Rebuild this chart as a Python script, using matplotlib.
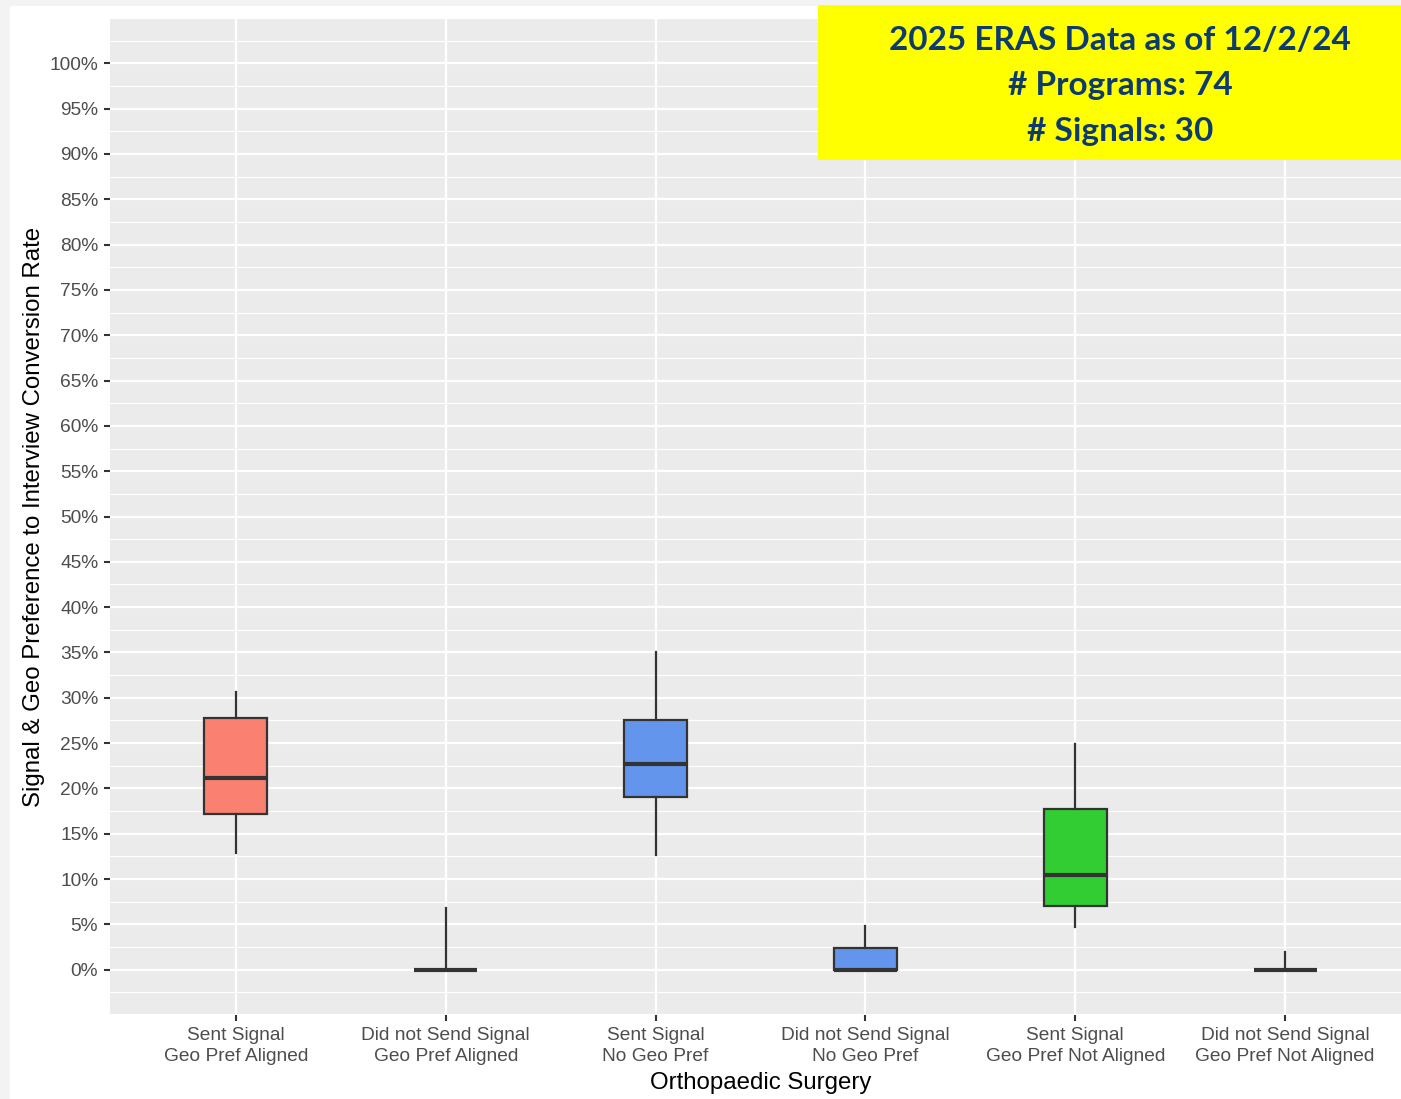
import matplotlib
matplotlib.use("Agg")
import matplotlib.pyplot as plt
from matplotlib.patches import Rectangle
from matplotlib.ticker import MultipleLocator, FuncFormatter

plt.rcParams['font.family'] = ['Liberation Sans', 'DejaVu Sans']

categories = ["Sent Signal\nGeo Pref Aligned", "Did not Send Signal\nGeo Pref Aligned",
              "Sent Signal\nNo Geo Pref", "Did not Send Signal\nNo Geo Pref",
              "Sent Signal\nGeo Pref Not Aligned", "Did not Send Signal\nGeo Pref Not Aligned"]
whisker_low = [12.9, 0.0, 12.6, 0.0, 4.7, 0.0]
q1 = [17.2, 0.0, 19.0, 0.0, 7.05, 0.0]
median = [21.2, 0.0, 22.7, 0.0, 10.4, 0.0]
q3 = [27.8, 0.0, 27.6, 2.4, 17.75, 0.0]
whisker_high = [30.65, 6.8, 35.1, 4.85, 24.9, 1.9]
fill_colors = ["#FA8072", "#FA8072", "#6495ED", "#6495ED", "#32CD32", "#32CD32"]

box_text = "2025 ERAS Data as of 12/2/24\n# Programs: 74\n# Signals: 30"

W, H = 1401, 1099
fig = plt.figure(figsize=(W / 100, H / 100), dpi=100)
fig.patch.set_facecolor("#f3f3f3")
fig.add_artist(Rectangle((10 / W, 0), 1, 1 - 6 / H, transform=fig.transFigure,
                         facecolor="white", edgecolor="none", zorder=0))

ax = fig.add_axes([110 / W, 1 - 1015 / H, (1411 - 110) / W, (1015 - 18) / H])
ax.set_facecolor("#EBEBEB")
for s in ax.spines.values():
    s.set_visible(False)

stats = []
for i in range(len(categories)):
    stats.append(dict(whislo=whisker_low[i], q1=q1[i], med=median[i],
                      q3=q3[i], whishi=whisker_high[i], fliers=[]))
pos = list(range(1, len(categories) + 1))
bp = ax.bxp(stats, positions=pos, widths=0.3, patch_artist=True, showcaps=False,
            boxprops=dict(edgecolor="#333333", linewidth=1.6),
            whiskerprops=dict(color="#333333", linewidth=1.6),
            medianprops=dict(color="#333333", linewidth=3.0, solid_capstyle="butt"),
            zorder=3)
for patch, c in zip(bp['boxes'], fill_colors):
    patch.set_facecolor(c)

ax.set_xlim(0.4, 6.6)
ax.set_ylim(-5, 105)
ax.yaxis.set_major_locator(MultipleLocator(5))
ax.yaxis.set_minor_locator(MultipleLocator(2.5))
ax.yaxis.set_major_formatter(FuncFormatter(lambda v, p: f"{v:.0f}%" if 0 <= v <= 100 else ""))
ax.set_xticks(pos)
ax.set_xticklabels(categories, linespacing=1.3)

ax.grid(True, which="major", color="white", linewidth=1.6, zorder=0)
ax.grid(True, which="minor", axis="y", color="white", linewidth=0.8, zorder=0)
ax.set_axisbelow(True)
ax.tick_params(axis="both", which="major", length=4.5, width=1.5, color="#333333",
               labelcolor="#4D4D4D", labelsize=13.8, pad=4)
ax.tick_params(axis="y", which="minor", length=0)
for tl, loc in zip(ax.yaxis.get_major_ticks(), ax.get_yticks()):
    if loc < 0 or loc > 100:
        tl.tick1line.set_visible(False)

ax.set_xlabel("Orthopaedic Surgery", fontsize=17.3, color="black", labelpad=5)
ax.set_ylabel("Signal & Geo Preference to Interview Conversion Rate", fontsize=17.3,
              color="black", labelpad=3)

fig.add_artist(Rectangle((818 / W, 1 - 160 / H), (1401 - 818) / W, (160 - 5) / H,
                         transform=fig.transFigure, facecolor="#FFFF00",
                         edgecolor="none", zorder=5))
fig.text(1120 / W, 1 - 86 / H, box_text, ha="center", va="center", fontsize=24,
         fontweight="bold", color="#0D3B6E", family=["Lato", "DejaVu Sans"],
         linespacing=1.68, zorder=6)

fig.savefig("out.png", dpi=100, facecolor=fig.get_facecolor())
